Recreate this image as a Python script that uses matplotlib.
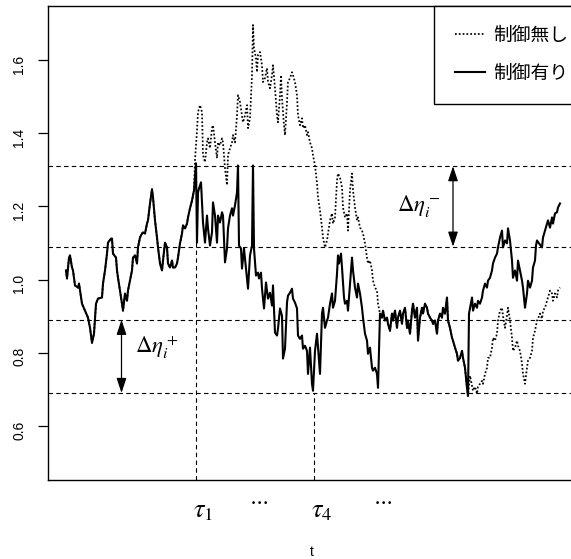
import numpy as np
import matplotlib
matplotlib.use("Agg")
import matplotlib.pyplot as plt
import matplotlib.transforms as mtransforms

plt.rcParams['font.family'] = ['Liberation Sans', 'Noto Sans CJK JP', 'DejaVu Sans']
plt.rcParams['mathtext.fontset'] = 'stix'

# controlled path (solid)
ctrl_t = [0, 1, 3, 4, 6, 7, 9, 12, 13, 16, 19, 22, 24, 26, 28, 30, 32, 36, 37, 39,
          41, 42, 45, 46, 47, 50, 51, 52, 54, 56, 57, 59, 61, 62, 64, 66, 67, 69, 71, 72,
          74, 76, 77, 79, 81, 82, 84, 86, 87, 89, 91, 92, 94, 96, 97, 99, 101, 102, 104, 106,
          107, 109, 111, 112, 114, 116, 117, 119, 121, 122, 124, 126, 128, 130, 131, 132, 133, 135, 136, 137,
          139, 141, 142, 144, 146, 147, 149, 151, 152, 154, 156, 157, 159, 161, 162, 164, 166, 167, 169, 171,
          172, 173, 175, 176, 178, 180, 182, 184, 186, 187, 188, 190, 192, 193, 195, 196, 198, 200, 202, 204,
          206, 207, 209, 211, 212, 214, 216, 217, 219, 221, 222, 224, 226, 227, 229, 231, 232, 234, 236, 237,
          239, 241, 242, 244, 246, 247, 249, 251, 252, 254, 256, 257, 259, 261, 262, 264, 266, 267, 269, 271,
          272, 273, 275, 276, 278, 279, 281, 282, 284, 286, 287, 289, 291, 292, 294, 296, 297, 299, 301, 302,
          304, 306, 307, 309, 311, 312, 314, 316, 317, 319, 321, 322, 324, 326, 327, 329, 331, 332, 334, 336,
          337, 339, 341, 342, 344, 346, 347, 349, 351, 352, 354, 356, 357, 359, 361, 362, 364, 366, 367, 369,
          371, 372, 374, 376, 377, 379, 381, 382, 384, 386, 387, 389, 391, 392, 394, 396, 397, 399, 401, 402,
          403, 406, 407, 409, 411, 412, 414, 416, 417, 419, 421, 422, 424, 426, 427, 429, 431, 432, 434, 436,
          437, 439, 441, 442, 444, 446, 447, 449, 451, 452, 454, 456, 457, 459, 461, 462, 464, 466, 467, 469,
          470, 471, 473, 476, 477, 479, 481, 482, 484, 486, 487, 489, 491, 492, 494]
ctrl_y = [1.025, 1.003, 1.060, 1.066, 1.033, 1.025, 0.984, 0.978, 0.989, 0.934, 0.915, 0.896, 0.868, 0.827, 0.852, 0.934, 0.948, 0.951, 0.989, 1.025,
          1.071, 1.101, 1.112, 1.112, 1.071, 1.060, 1.025, 1.005, 0.970, 0.934, 0.915, 0.962, 0.942, 0.970, 0.997, 1.025, 1.060, 1.066, 1.044, 1.088,
          1.115, 1.126, 1.129, 1.126, 1.153, 1.162, 1.208, 1.247, 1.225, 1.162, 1.115, 1.088, 1.044, 1.025, 1.052, 1.101, 1.088, 1.044, 1.033, 1.052,
          1.033, 1.033, 1.044, 1.060, 1.099, 1.126, 1.148, 1.140, 1.153, 1.170, 1.195, 1.216, 1.244, 1.318, 1.101, 1.238, 1.249, 1.266, 1.211, 1.156,
          1.101, 1.175, 1.140, 1.093, 1.129, 1.211, 1.175, 1.101, 1.175, 1.156, 1.184, 1.175, 1.047, 1.085, 1.140, 1.175, 1.195, 1.175, 1.203, 1.238,
          1.312, 1.093, 1.085, 1.030, 1.085, 1.030, 0.975, 1.066, 1.093, 1.312, 1.085, 1.011, 1.019, 1.003, 1.019, 0.975, 0.921, 0.992, 0.948, 0.964,
          0.929, 0.984, 0.855, 0.847, 0.866, 0.921, 0.901, 0.784, 0.811, 0.937, 0.956, 0.964, 0.975, 0.948, 0.937, 0.921, 0.847, 0.838, 0.847, 0.811,
          0.819, 0.805, 0.742, 0.814, 0.715, 0.696, 0.805, 0.852, 0.814, 0.742, 0.907, 0.923, 0.868, 0.888, 0.896, 0.934, 0.962, 0.923, 0.942, 1.016,
          1.066, 1.044, 1.071, 1.033, 0.951, 0.934, 0.942, 0.915, 0.989, 1.060, 1.025, 0.978, 0.951, 0.989, 0.962, 0.923, 0.896, 0.852, 0.833, 0.797,
          0.814, 0.759, 0.751, 0.759, 0.742, 0.704, 0.907, 0.896, 0.915, 0.888, 0.896, 0.879, 0.860, 0.907, 0.888, 0.915, 0.868, 0.896, 0.915, 0.879,
          0.907, 0.923, 0.868, 0.888, 0.852, 0.915, 0.934, 0.896, 0.923, 0.833, 0.896, 0.923, 0.907, 0.934, 0.923, 0.907, 0.896, 0.888, 0.879, 0.888,
          0.852, 0.888, 0.907, 0.896, 0.923, 0.907, 0.951, 0.888, 0.868, 0.841, 0.833, 0.814, 0.797, 0.778, 0.786, 0.805, 0.786, 0.759, 0.704, 0.682,
          0.907, 0.951, 0.915, 0.934, 0.923, 0.942, 0.934, 0.951, 0.970, 0.989, 0.978, 0.997, 1.005, 1.025, 1.044, 1.060, 1.071, 1.088, 1.115, 1.134,
          1.088, 1.107, 1.099, 1.140, 1.107, 1.052, 1.005, 1.025, 0.997, 1.052, 1.025, 0.997, 0.978, 0.923, 0.962, 0.997, 0.978, 0.997, 1.033, 1.052,
          1.093, 1.107, 1.099, 1.088, 1.115, 1.134, 1.153, 1.162, 1.142, 1.170, 1.153, 1.181, 1.184, 1.197, 1.208]

# uncontrolled path (dotted) where it leaves the controlled one
free_mid_t = [129, 131, 132, 134, 136, 137, 139, 141, 142, 144, 146, 147, 149, 151, 152, 154, 156, 157, 159, 161,
              162, 164, 166, 167, 169, 171, 172, 174, 176, 177, 179, 181, 182, 184, 186, 187, 188, 190, 191, 192,
              194, 196, 197, 199, 201, 202, 204, 206, 207, 209, 211, 212, 214, 215, 216, 218, 219, 221, 222, 224,
              226, 227, 229, 231, 232, 234, 236, 237, 239, 241, 242, 244, 246, 247, 249, 251, 252, 254, 256, 257,
              259, 261, 262, 264, 266, 267, 269, 271, 272, 274, 276, 277, 279, 281, 282, 284, 286, 287, 289, 291,
              292, 294, 296, 297, 299, 301, 302, 304, 306, 307, 309, 311, 312]
free_mid_y = [1.326, 1.408, 1.458, 1.477, 1.458, 1.340, 1.321, 1.375, 1.386, 1.359, 1.414, 1.422, 1.375, 1.332, 1.375, 1.367, 1.386, 1.375, 1.304, 1.258,
              1.340, 1.359, 1.375, 1.395, 1.375, 1.449, 1.504, 1.485, 1.449, 1.430, 1.449, 1.477, 1.414, 1.441, 1.559, 1.696, 1.633, 1.605, 1.567, 1.614,
              1.622, 1.586, 1.540, 1.551, 1.578, 1.540, 1.523, 1.559, 1.586, 1.523, 1.449, 1.430, 1.504, 1.559, 1.496, 1.422, 1.395, 1.485, 1.540, 1.551,
              1.567, 1.559, 1.540, 1.504, 1.449, 1.422, 1.441, 1.414, 1.422, 1.395, 1.403, 1.375, 1.359, 1.340, 1.312, 1.263, 1.225, 1.189, 1.142, 1.115,
              1.088, 1.107, 1.126, 1.162, 1.181, 1.153, 1.170, 1.271, 1.290, 1.279, 1.252, 1.197, 1.170, 1.181, 1.134, 1.244, 1.290, 1.244, 1.197, 1.162,
              1.170, 1.142, 1.134, 1.126, 1.099, 1.060, 1.044, 1.052, 1.025, 0.997, 0.978, 0.970, 0.934]
free_tail_t = [404, 406, 407, 409, 411, 412, 414, 416, 417, 419, 421, 422, 424, 426, 427, 429, 431, 432, 434, 436,
               437, 439, 441, 442, 444, 446, 447, 449, 451, 452, 454, 456, 457, 459, 461, 462, 464, 466, 467, 469,
               471, 472, 474, 476, 477, 479, 481, 482, 484, 486, 487, 489, 491, 492, 494]
free_tail_y = [0.737, 0.710, 0.696, 0.707, 0.688, 0.707, 0.715, 0.723, 0.715, 0.742, 0.759, 0.786, 0.786, 0.814, 0.841, 0.833, 0.852, 0.888, 0.915, 0.923,
               0.901, 0.868, 0.901, 0.923, 0.888, 0.841, 0.805, 0.814, 0.833, 0.819, 0.805, 0.770, 0.742, 0.715, 0.759, 0.778, 0.786, 0.805, 0.841, 0.860,
               0.888, 0.893, 0.907, 0.893, 0.915, 0.923, 0.942, 0.951, 0.970, 0.962, 0.942, 0.962, 0.951, 0.970, 0.978]

# control bands and intervention times
upper_band = [1.31, 1.09]
lower_band = [0.89, 0.69]
tau_times = [130, 248]
tau_labels = [r'$\tau_1$', r'$\tau_4$']
dots_times = [193, 317]
legend_labels = ['制御無し', '制御有り']

ct = np.array(ctrl_t)
cy = np.array(ctrl_y)
first = ct <= 128
joint = (ct >= 314) & (ct <= 402)
free_t = np.concatenate([ct[first], free_mid_t, ct[joint], free_tail_t])
free_y = np.concatenate([cy[first], free_mid_y, cy[joint], free_tail_y])

fig = plt.figure(figsize=(5.71, 5.59), dpi=100)
ax = fig.add_axes([48 / 571, 79 / 559, 528 / 571, 474 / 559])

ax.plot(free_t, free_y, color='black', lw=1.25, ls=(0, (1.0, 1.2)), label=legend_labels[0])
ax.plot(ct, cy, color='black', lw=1.5, label=legend_labels[1])

for lvl in upper_band + lower_band:
    ax.axhline(lvl, color='black', lw=0.8, ls=(0, (4, 3)))

ylo, yhi = 0.452, 1.748
ax.vlines(tau_times[0], ylo, upper_band[0], color='black', lw=0.8, ls=(0, (4, 3)))
ax.vlines(tau_times[1], ylo, lower_band[1], color='black', lw=0.8, ls=(0, (4, 3)))

arrow = dict(arrowstyle='<|-|>,head_length=0.9,head_width=0.3', color='black',
             lw=0.9, shrinkA=0, shrinkB=0, mutation_scale=10)
ax.annotate('', xy=(387, upper_band[1]), xytext=(387, upper_band[0]), arrowprops=arrow)
ax.annotate('', xy=(55.5, lower_band[1]), xytext=(55.5, lower_band[0]), arrowprops=arrow)
ax.text(374, 1.20, r'$\Delta\eta_i^-$', fontsize=16.5, ha='right', va='center')
ax.text(69, 0.815, r'$\Delta\eta_i^+$', fontsize=16.5, ha='left', va='center')

ax.set_xlim(-18, 510)
ax.set_ylim(ylo, yhi)
ax.set_xticks([])
ax.set_yticks([0.6, 0.8, 1.0, 1.2, 1.4, 1.6])
ax.set_yticklabels(['0.6', '0.8', '1.0', '1.2', '1.4', '1.6'])
ax.tick_params(axis='y', labelrotation=90, length=7.5, width=0.9, pad=8, labelsize=10)
for s in ax.spines.values():
    s.set_linewidth(1.0)

xtrans = mtransforms.blended_transform_factory(ax.transData, ax.transAxes)
for t, lab in zip(tau_times, tau_labels):
    ax.text(t - 3, -0.079, lab, transform=xtrans, fontsize=19, ha='left', va='baseline')
for t in dots_times:
    ax.text(t, -0.044, r'$\cdots$', transform=xtrans, fontsize=15, ha='center', va='center')

ax.set_xlabel('t', fontsize=10, labelpad=47)

leg = ax.legend(loc='upper right', bbox_to_anchor=(1.0256, 1.0), borderaxespad=0,
                fancybox=False, framealpha=1, edgecolor='black', fontsize=13.5,
                handlelength=1.6, handletextpad=0.4, borderpad=1.15, labelspacing=1.1)
leg.get_frame().set_linewidth(1.0)

fig.savefig('out.png', dpi=100)
